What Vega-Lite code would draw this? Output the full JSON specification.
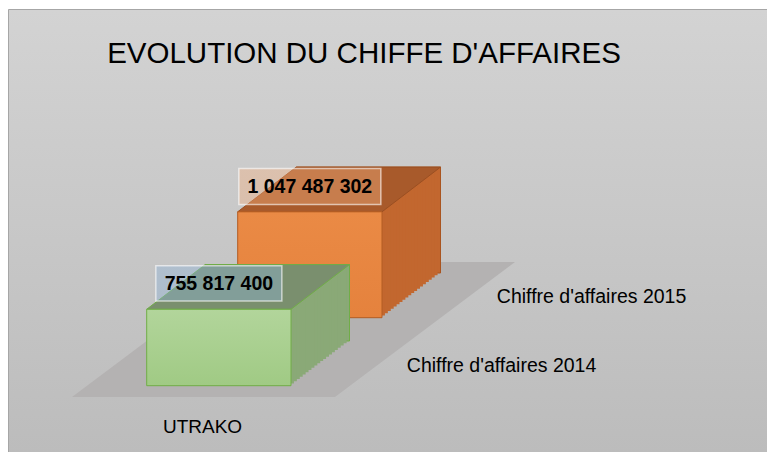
{
  "$schema": "https://vega.github.io/schema/vega-lite/v6.json",
  "width": 759,
  "height": 443,
  "autosize": {"type": "none"},
  "padding": {"left": 8, "top": 9, "right": 0, "bottom": 0},
  "background": "#ffffff",
  "config": {
    "locale": {"number": {"decimal": ",", "thousands": " ", "grouping": [3], "currency": ["", " €"]}},
    "view": {"fill": {"gradient": "linear", "x1": 0, "y1": 0, "x2": 0, "y2": 1, "stops": [{"offset": 0, "color": "#d3d3d3"}, {"offset": 1, "color": "#bcbcbc"}]}, "stroke": "#a6a6a6", "strokeWidth": 1}
  },
  "title": {"text": "EVOLUTION DU CHIFFE D'AFFAIRES", "font": "Liberation Sans, Arial, sans-serif", "fontSize": 29.5, "fontWeight": "normal", "color": "#000000", "anchor": "middle", "frame": "group", "baseline": "alphabetic", "offset": 0, "dy": 83, "dx": -23.5},
  "data": {"values": [
    {"categorie": "UTRAKO", "serie": "Chiffre d'affaires 2014", "annee": 2014, "valeur": 755817400},
    {"categorie": "UTRAKO", "serie": "Chiffre d'affaires 2015", "annee": 2015, "valeur": 1047487302}
  ]},
  "encoding": {
    "x": {"field": "categorie", "type": "nominal", "axis": null, "scale": {"range": [138.7, 283], "paddingInner": 0, "paddingOuter": 0}},
    "y": {"field": "valeur", "type": "quantitative", "axis": null, "scale": {"domain": [0, 3726000000], "range": [376.7, 0], "nice": false, "zero": false}}
  },
  "layer": [
    {"transform": [{"filter": {"field": "annee", "equal": 2014}}], "mark": {"type": "point", "shape": "M-0.979,0.0753L0.7743,0.0753L1.9743,-0.8247L0.221,-0.8247Z", "size": 90000, "filled": true, "fill": "#b4b2b2", "stroke": null, "opacity": 1}, "encoding": {"y": {"datum": 0, "type": "quantitative"}}},

    {"transform": [{"filter": {"field": "annee", "equal": 2015}}], "mark": {"type": "bar", "fill": "#c2672f", "stroke": "#a9541f", "strokeWidth": 1, "xOffset": 149.5, "x2Offset": 149.5, "yOffset": -112.7, "y2Offset": -112.7}},
    {"transform": [{"filter": {"field": "annee", "equal": 2015}}], "mark": {"type": "bar", "fill": "#c2672f", "xOffset": 146.58, "x2Offset": 146.58, "yOffset": -110.47, "y2Offset": -110.47}},
    {"transform": [{"filter": {"field": "annee", "equal": 2015}}], "mark": {"type": "bar", "fill": "#c2672f", "xOffset": 143.65, "x2Offset": 143.65, "yOffset": -108.23, "y2Offset": -108.23}},
    {"transform": [{"filter": {"field": "annee", "equal": 2015}}], "mark": {"type": "bar", "fill": "#c2672f", "xOffset": 140.73, "x2Offset": 140.73, "yOffset": -106.0, "y2Offset": -106.0}},
    {"transform": [{"filter": {"field": "annee", "equal": 2015}}], "mark": {"type": "bar", "fill": "#c2672f", "xOffset": 137.8, "x2Offset": 137.8, "yOffset": -103.76, "y2Offset": -103.76}},
    {"transform": [{"filter": {"field": "annee", "equal": 2015}}], "mark": {"type": "bar", "fill": "#c2672f", "xOffset": 134.88, "x2Offset": 134.88, "yOffset": -101.53, "y2Offset": -101.53}},
    {"transform": [{"filter": {"field": "annee", "equal": 2015}}], "mark": {"type": "bar", "fill": "#c2672f", "xOffset": 131.95, "x2Offset": 131.95, "yOffset": -99.29, "y2Offset": -99.29}},
    {"transform": [{"filter": {"field": "annee", "equal": 2015}}], "mark": {"type": "bar", "fill": "#c2672f", "xOffset": 129.03, "x2Offset": 129.03, "yOffset": -97.06, "y2Offset": -97.06}},
    {"transform": [{"filter": {"field": "annee", "equal": 2015}}], "mark": {"type": "bar", "fill": "#c2672f", "xOffset": 126.1, "x2Offset": 126.1, "yOffset": -94.82, "y2Offset": -94.82}},
    {"transform": [{"filter": {"field": "annee", "equal": 2015}}], "mark": {"type": "bar", "fill": "#c2672f", "xOffset": 123.18, "x2Offset": 123.18, "yOffset": -92.59, "y2Offset": -92.59}},
    {"transform": [{"filter": {"field": "annee", "equal": 2015}}], "mark": {"type": "bar", "fill": "#c2672f", "xOffset": 120.25, "x2Offset": 120.25, "yOffset": -90.35, "y2Offset": -90.35}},
    {"transform": [{"filter": {"field": "annee", "equal": 2015}}], "mark": {"type": "bar", "fill": "#c2672f", "xOffset": 117.33, "x2Offset": 117.33, "yOffset": -88.12, "y2Offset": -88.12}},
    {"transform": [{"filter": {"field": "annee", "equal": 2015}}], "mark": {"type": "bar", "fill": "#c2672f", "xOffset": 114.4, "x2Offset": 114.4, "yOffset": -85.88, "y2Offset": -85.88}},
    {"transform": [{"filter": {"field": "annee", "equal": 2015}}], "mark": {"type": "bar", "fill": "#c2672f", "xOffset": 111.48, "x2Offset": 111.48, "yOffset": -83.65, "y2Offset": -83.65}},
    {"transform": [{"filter": {"field": "annee", "equal": 2015}}], "mark": {"type": "bar", "fill": "#c2672f", "xOffset": 108.55, "x2Offset": 108.55, "yOffset": -81.41, "y2Offset": -81.41}},
    {"transform": [{"filter": {"field": "annee", "equal": 2015}}], "mark": {"type": "bar", "fill": "#c2672f", "xOffset": 105.63, "x2Offset": 105.63, "yOffset": -79.18, "y2Offset": -79.18}},
    {"transform": [{"filter": {"field": "annee", "equal": 2015}}], "mark": {"type": "bar", "fill": "#c2672f", "xOffset": 102.7, "x2Offset": 102.7, "yOffset": -76.94, "y2Offset": -76.94}},
    {"transform": [{"filter": {"field": "annee", "equal": 2015}}], "mark": {"type": "bar", "fill": "#c2672f", "xOffset": 99.78, "x2Offset": 99.78, "yOffset": -74.71, "y2Offset": -74.71}},
    {"transform": [{"filter": {"field": "annee", "equal": 2015}}], "mark": {"type": "bar", "fill": "#c2672f", "xOffset": 96.85, "x2Offset": 96.85, "yOffset": -72.47, "y2Offset": -72.47}},
    {"transform": [{"filter": {"field": "annee", "equal": 2015}}], "mark": {"type": "bar", "fill": "#c2672f", "xOffset": 93.93, "x2Offset": 93.93, "yOffset": -70.24, "y2Offset": -70.24}},
    {"transform": [{"filter": {"field": "annee", "equal": 2015}}], "mark": {"type": "point", "shape": "M-1,0L1,0L1.8108,-0.6195L-0.1892,-0.6195Z", "size": 20822, "filled": true, "fill": "#a85a2b", "stroke": "#9a4f22", "strokeWidth": 1, "opacity": 1, "xOffset": 91, "yOffset": -68}},
    {"transform": [{"filter": {"field": "annee", "equal": 2015}}], "mark": {"type": "bar", "fill": {"gradient": "linear", "x1": 0, "y1": 0, "x2": 0, "y2": 1, "stops": [{"offset": 0, "color": "#ea8a45"}, {"offset": 1, "color": "#e5823d"}]}, "stroke": "#b35c22", "strokeWidth": 1, "xOffset": 91, "x2Offset": 91, "yOffset": -68, "y2Offset": -68}},

    {"transform": [{"filter": {"field": "annee", "equal": 2014}}], "mark": {"type": "bar", "fill": "#8aa977", "stroke": "#70ad47", "strokeWidth": 1, "xOffset": 58.5, "x2Offset": 58.5, "yOffset": -44.7, "y2Offset": -44.7}},
    {"transform": [{"filter": {"field": "annee", "equal": 2014}}], "mark": {"type": "bar", "fill": "#8aa977", "xOffset": 55.58, "x2Offset": 55.58, "yOffset": -42.47, "y2Offset": -42.47}},
    {"transform": [{"filter": {"field": "annee", "equal": 2014}}], "mark": {"type": "bar", "fill": "#8aa977", "xOffset": 52.65, "x2Offset": 52.65, "yOffset": -40.23, "y2Offset": -40.23}},
    {"transform": [{"filter": {"field": "annee", "equal": 2014}}], "mark": {"type": "bar", "fill": "#8aa977", "xOffset": 49.73, "x2Offset": 49.73, "yOffset": -38.0, "y2Offset": -38.0}},
    {"transform": [{"filter": {"field": "annee", "equal": 2014}}], "mark": {"type": "bar", "fill": "#8aa977", "xOffset": 46.8, "x2Offset": 46.8, "yOffset": -35.76, "y2Offset": -35.76}},
    {"transform": [{"filter": {"field": "annee", "equal": 2014}}], "mark": {"type": "bar", "fill": "#8aa977", "xOffset": 43.88, "x2Offset": 43.88, "yOffset": -33.53, "y2Offset": -33.53}},
    {"transform": [{"filter": {"field": "annee", "equal": 2014}}], "mark": {"type": "bar", "fill": "#8aa977", "xOffset": 40.95, "x2Offset": 40.95, "yOffset": -31.29, "y2Offset": -31.29}},
    {"transform": [{"filter": {"field": "annee", "equal": 2014}}], "mark": {"type": "bar", "fill": "#8aa977", "xOffset": 38.03, "x2Offset": 38.03, "yOffset": -29.06, "y2Offset": -29.06}},
    {"transform": [{"filter": {"field": "annee", "equal": 2014}}], "mark": {"type": "bar", "fill": "#8aa977", "xOffset": 35.1, "x2Offset": 35.1, "yOffset": -26.82, "y2Offset": -26.82}},
    {"transform": [{"filter": {"field": "annee", "equal": 2014}}], "mark": {"type": "bar", "fill": "#8aa977", "xOffset": 32.18, "x2Offset": 32.18, "yOffset": -24.59, "y2Offset": -24.59}},
    {"transform": [{"filter": {"field": "annee", "equal": 2014}}], "mark": {"type": "bar", "fill": "#8aa977", "xOffset": 29.25, "x2Offset": 29.25, "yOffset": -22.35, "y2Offset": -22.35}},
    {"transform": [{"filter": {"field": "annee", "equal": 2014}}], "mark": {"type": "bar", "fill": "#8aa977", "xOffset": 26.33, "x2Offset": 26.33, "yOffset": -20.12, "y2Offset": -20.12}},
    {"transform": [{"filter": {"field": "annee", "equal": 2014}}], "mark": {"type": "bar", "fill": "#8aa977", "xOffset": 23.4, "x2Offset": 23.4, "yOffset": -17.88, "y2Offset": -17.88}},
    {"transform": [{"filter": {"field": "annee", "equal": 2014}}], "mark": {"type": "bar", "fill": "#8aa977", "xOffset": 20.48, "x2Offset": 20.48, "yOffset": -15.65, "y2Offset": -15.65}},
    {"transform": [{"filter": {"field": "annee", "equal": 2014}}], "mark": {"type": "bar", "fill": "#8aa977", "xOffset": 17.55, "x2Offset": 17.55, "yOffset": -13.41, "y2Offset": -13.41}},
    {"transform": [{"filter": {"field": "annee", "equal": 2014}}], "mark": {"type": "bar", "fill": "#8aa977", "xOffset": 14.63, "x2Offset": 14.63, "yOffset": -11.18, "y2Offset": -11.18}},
    {"transform": [{"filter": {"field": "annee", "equal": 2014}}], "mark": {"type": "bar", "fill": "#8aa977", "xOffset": 11.7, "x2Offset": 11.7, "yOffset": -8.94, "y2Offset": -8.94}},
    {"transform": [{"filter": {"field": "annee", "equal": 2014}}], "mark": {"type": "bar", "fill": "#8aa977", "xOffset": 8.78, "x2Offset": 8.78, "yOffset": -6.71, "y2Offset": -6.71}},
    {"transform": [{"filter": {"field": "annee", "equal": 2014}}], "mark": {"type": "bar", "fill": "#8aa977", "xOffset": 5.85, "x2Offset": 5.85, "yOffset": -4.47, "y2Offset": -4.47}},
    {"transform": [{"filter": {"field": "annee", "equal": 2014}}], "mark": {"type": "bar", "fill": "#8aa977", "xOffset": 2.93, "x2Offset": 2.93, "yOffset": -2.24, "y2Offset": -2.24}},
    {"transform": [{"filter": {"field": "annee", "equal": 2014}}], "mark": {"type": "point", "shape": "M-1,0L1,0L1.8108,-0.6195L-0.1892,-0.6195Z", "size": 20822, "filled": true, "fill": "#7a8f6e", "stroke": "#70ad47", "strokeWidth": 1, "opacity": 1}},
    {"transform": [{"filter": {"field": "annee", "equal": 2014}}], "mark": {"type": "bar", "fill": {"gradient": "linear", "x1": 0, "y1": 0, "x2": 0, "y2": 1, "stops": [{"offset": 0, "color": "#b2d59b"}, {"offset": 1, "color": "#a0ca84"}]}, "stroke": "#70ad47", "strokeWidth": 1}},

    {"transform": [{"filter": {"field": "annee", "equal": 2015}}], "mark": {"type": "point", "shape": "M-1,-0.2535L1,-0.2535L1,0.2535L-1,0.2535Z", "size": 20164, "filled": true, "fill": "#f4b183", "fillOpacity": 0.4, "stroke": "#ffffff", "strokeOpacity": 0.6, "strokeWidth": 1.5, "opacity": 1, "xOffset": 91, "yOffset": -93.4}},
    {"transform": [{"filter": {"field": "annee", "equal": 2014}}], "mark": {"type": "point", "shape": "M-1,-0.28L1,-0.28L1,0.28L-1,0.28Z", "size": 15876, "filled": true, "fill": "#8fb4d9", "fillOpacity": 0.4, "stroke": "#ffffff", "strokeOpacity": 0.6, "strokeWidth": 1.5, "opacity": 1, "yOffset": -26}},
    {"transform": [{"filter": {"field": "annee", "equal": 2015}}], "mark": {"type": "text", "font": "Liberation Sans, Arial, sans-serif", "fontSize": 19.5, "fontWeight": "bold", "color": "#000000", "align": "center", "baseline": "alphabetic", "xOffset": 91, "yOffset": -86.3}, "encoding": {"text": {"field": "valeur", "type": "quantitative", "format": ",d"}}},
    {"transform": [{"filter": {"field": "annee", "equal": 2014}}], "mark": {"type": "text", "font": "Liberation Sans, Arial, sans-serif", "fontSize": 19.5, "fontWeight": "bold", "color": "#000000", "align": "center", "baseline": "alphabetic", "yOffset": -19}, "encoding": {"text": {"field": "valeur", "type": "quantitative", "format": ",d"}}},

    {"transform": [{"filter": {"field": "annee", "equal": 2015}}], "mark": {"type": "text", "font": "Liberation Sans, Arial, sans-serif", "fontSize": 19.5, "color": "#000000", "align": "left", "baseline": "alphabetic", "xOffset": 278, "yOffset": -82.7}, "encoding": {"y": {"datum": 0, "type": "quantitative"}, "text": {"field": "serie", "type": "nominal"}}},
    {"transform": [{"filter": {"field": "annee", "equal": 2014}}], "mark": {"type": "text", "font": "Liberation Sans, Arial, sans-serif", "fontSize": 19.5, "color": "#000000", "align": "left", "baseline": "alphabetic", "xOffset": 188, "yOffset": -14}, "encoding": {"y": {"datum": 0, "type": "quantitative"}, "text": {"field": "serie", "type": "nominal"}}},
    {"transform": [{"filter": {"field": "annee", "equal": 2014}}], "mark": {"type": "text", "font": "Liberation Sans, Arial, sans-serif", "fontSize": 19, "color": "#000000", "align": "center", "baseline": "alphabetic", "xOffset": -16.35, "yOffset": 47.6}, "encoding": {"y": {"datum": 0, "type": "quantitative"}, "text": {"field": "categorie", "type": "nominal"}}}
  ]
}
